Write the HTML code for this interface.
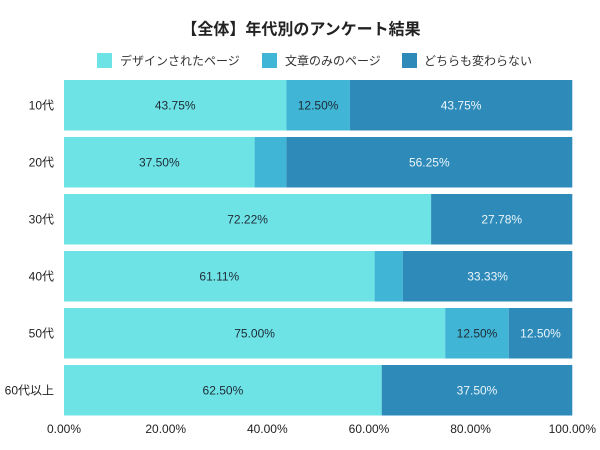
<!DOCTYPE html>
<html>
<head>
<meta charset="utf-8">
<style>
  html, body { margin: 0; padding: 0; background: #ffffff; }
  body { width: 600px; height: 450px; overflow: hidden; }
  svg { display: block; font-family: "Liberation Sans", "Noto Sans CJK JP", sans-serif; }
  .t { font-size: 12px; }
</style>
</head>
<body>
<svg width="600" height="450" viewBox="0 0 600 450" xmlns="http://www.w3.org/2000/svg">
  <rect x="0" y="0" width="600" height="450" fill="#ffffff"/>

  <!-- Title -->
  <text x="301" y="30" text-anchor="middle" dominant-baseline="central" font-size="16" font-weight="bold" fill="#222222">【全体】年代別のアンケート結果</text>

  <!-- Legend -->
  <rect x="97" y="53" width="15" height="15" fill="#6ee3e6"/>
  <text class="t" x="120" y="61" dominant-baseline="central" fill="#333333">デザインされたページ</text>
  <rect x="262" y="53" width="15" height="15" fill="#41b5d5"/>
  <text class="t" x="285" y="61" dominant-baseline="central" fill="#333333">文章のみのページ</text>
  <rect x="402" y="53" width="15" height="15" fill="#2e8ab9"/>
  <text class="t" x="424" y="61" dominant-baseline="central" fill="#333333">どちらも変わらない</text>

  <!-- Bars: x0=64, W=508.3 -->
  <!-- 10代 -->
  <rect x="64" y="80" width="222.4" height="50.5" fill="#6ee3e6"/>
  <rect x="286.4" y="80" width="63.5" height="50.5" fill="#41b5d5"/>
  <rect x="349.9" y="80" width="222.4" height="50.5" fill="#2e8ab9"/>
  <text class="t" x="175.2" y="105.3" text-anchor="middle" dominant-baseline="central" fill="#1e2b36">43.75%</text>
  <text class="t" x="318.1" y="105.3" text-anchor="middle" dominant-baseline="central" fill="#1e2b36">12.50%</text>
  <text class="t" x="461.1" y="105.3" text-anchor="middle" dominant-baseline="central" fill="#eaf5fa">43.75%</text>

  <!-- 20代 -->
  <rect x="64" y="137" width="190.6" height="50.5" fill="#6ee3e6"/>
  <rect x="254.6" y="137" width="31.8" height="50.5" fill="#41b5d5"/>
  <rect x="286.4" y="137" width="285.9" height="50.5" fill="#2e8ab9"/>
  <text class="t" x="159.3" y="162.3" text-anchor="middle" dominant-baseline="central" fill="#1e2b36">37.50%</text>
  <text class="t" x="429.3" y="162.3" text-anchor="middle" dominant-baseline="central" fill="#eaf5fa">56.25%</text>

  <!-- 30代 -->
  <rect x="64" y="194" width="367.1" height="50.5" fill="#6ee3e6"/>
  <rect x="431.1" y="194" width="141.2" height="50.5" fill="#2e8ab9"/>
  <text class="t" x="247.6" y="219.3" text-anchor="middle" dominant-baseline="central" fill="#1e2b36">72.22%</text>
  <text class="t" x="501.7" y="219.3" text-anchor="middle" dominant-baseline="central" fill="#eaf5fa">27.78%</text>

  <!-- 40代 -->
  <rect x="64" y="251" width="310.6" height="50.5" fill="#6ee3e6"/>
  <rect x="374.6" y="251" width="28.3" height="50.5" fill="#41b5d5"/>
  <rect x="402.9" y="251" width="169.4" height="50.5" fill="#2e8ab9"/>
  <text class="t" x="219.3" y="276.3" text-anchor="middle" dominant-baseline="central" fill="#1e2b36">61.11%</text>
  <text class="t" x="487.6" y="276.3" text-anchor="middle" dominant-baseline="central" fill="#eaf5fa">33.33%</text>

  <!-- 50代 -->
  <rect x="64" y="308" width="381.2" height="50.5" fill="#6ee3e6"/>
  <rect x="445.2" y="308" width="63.5" height="50.5" fill="#41b5d5"/>
  <rect x="508.7" y="308" width="63.6" height="50.5" fill="#2e8ab9"/>
  <text class="t" x="254.6" y="333.3" text-anchor="middle" dominant-baseline="central" fill="#1e2b36">75.00%</text>
  <text class="t" x="477" y="333.3" text-anchor="middle" dominant-baseline="central" fill="#1e2b36">12.50%</text>
  <text class="t" x="540.5" y="333.3" text-anchor="middle" dominant-baseline="central" fill="#eaf5fa">12.50%</text>

  <!-- 60代以上 -->
  <rect x="64" y="365" width="317.7" height="50.5" fill="#6ee3e6"/>
  <rect x="381.7" y="365" width="190.6" height="50.5" fill="#2e8ab9"/>
  <text class="t" x="222.9" y="390.3" text-anchor="middle" dominant-baseline="central" fill="#1e2b36">62.50%</text>
  <text class="t" x="477" y="390.3" text-anchor="middle" dominant-baseline="central" fill="#eaf5fa">37.50%</text>

  <!-- Y labels -->
  <text class="t" x="54" y="105.3" text-anchor="end" dominant-baseline="central" fill="#222222">10代</text>
  <text class="t" x="54" y="162.3" text-anchor="end" dominant-baseline="central" fill="#222222">20代</text>
  <text class="t" x="54" y="219.3" text-anchor="end" dominant-baseline="central" fill="#222222">30代</text>
  <text class="t" x="54" y="276.3" text-anchor="end" dominant-baseline="central" fill="#222222">40代</text>
  <text class="t" x="54" y="333.3" text-anchor="end" dominant-baseline="central" fill="#222222">50代</text>
  <text class="t" x="54" y="390.3" text-anchor="end" dominant-baseline="central" fill="#222222">60代以上</text>

  <!-- X tick labels -->
  <text class="t" x="64" y="429" text-anchor="middle" dominant-baseline="central" fill="#222222">0.00%</text>
  <text class="t" x="165.7" y="429" text-anchor="middle" dominant-baseline="central" fill="#222222">20.00%</text>
  <text class="t" x="267.3" y="429" text-anchor="middle" dominant-baseline="central" fill="#222222">40.00%</text>
  <text class="t" x="369" y="429" text-anchor="middle" dominant-baseline="central" fill="#222222">60.00%</text>
  <text class="t" x="470.6" y="429" text-anchor="middle" dominant-baseline="central" fill="#222222">80.00%</text>
  <text class="t" x="572.3" y="429" text-anchor="middle" dominant-baseline="central" fill="#222222">100.00%</text>
</svg>
</body>
</html>
